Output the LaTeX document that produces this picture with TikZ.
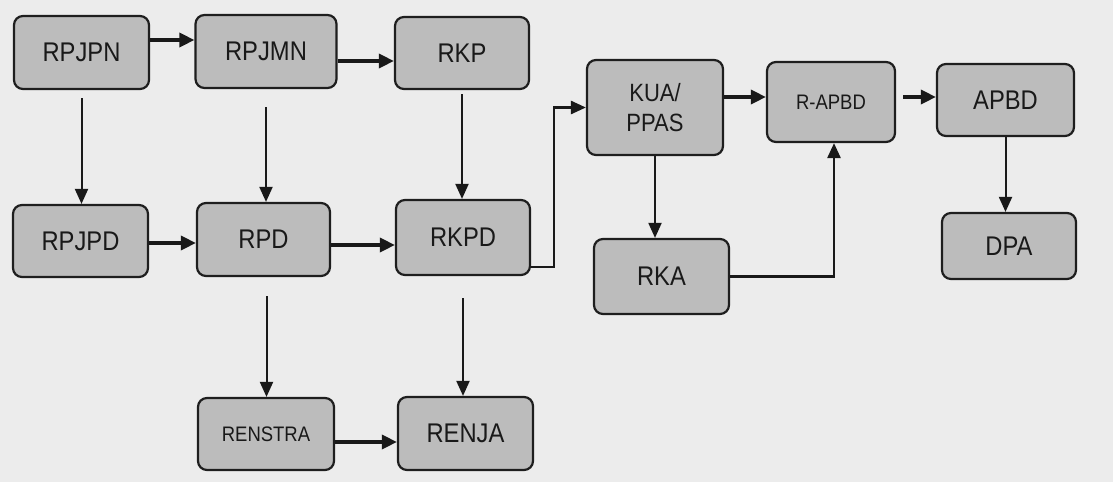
\documentclass[tikz,border=0pt]{standalone}
\usepackage{fontspec}
\setmainfont[FakeStretch=0.88]{Liberation Sans}
\usetikzlibrary{arrows.meta}
\definecolor{bg}{RGB}{236,236,236}
\definecolor{boxfill}{RGB}{188,188,188}
\definecolor{edge}{RGB}{30,30,30}
\tikzset{
  box/.style={draw=edge, line width=2.2pt, fill=boxfill, rounded corners=9pt,
    inner sep=0pt, text=black!90, font=\fontsize{27}{30}\selectfont},
  smalltxt/.style={font=\fontsize{21}{24}\selectfont},
  harrow/.style={draw=black!90, line width=3.4pt, -{Triangle[length=15pt,width=14pt]}},
  varrow/.style={draw=black!90, line width=2pt, -{Triangle[length=15pt,width=13pt]}},
  conn/.style={draw=black!90, line width=2.6pt, -{Triangle[length=15pt,width=13pt]}}
}
\begin{document}
\begin{tikzpicture}[x=1pt,y=-1pt]
\fill[bg] (0,0) rectangle (1113,482);
\useasboundingbox (0,0) rectangle (1113,482);

\node[box, minimum width=135pt, minimum height=73pt] (RPJPN) at (81.5,52.5) {RPJPN};
\node[box, minimum width=141pt, minimum height=73pt] (RPJMN) at (266,51.5) {RPJMN};
\node[box, minimum width=134pt, minimum height=72pt] (RKP) at (462,53) {RKP};
\node[box, minimum width=135pt, minimum height=72pt] (RPJPD) at (80.5,241) {RPJPD};
\node[box, minimum width=133pt, minimum height=73pt] (RPD) at (263.5,239.5) {RPD};
\node[box, minimum width=134pt, minimum height=75pt] (RKPD) at (463,237.5) {RKPD};
\node[box, smalltxt, minimum width=136pt, minimum height=72pt] (RENSTRA) at (266,434) {RENSTRA};
\node[box, minimum width=135pt, minimum height=73pt] (RENJA) at (465.5,433.5) {RENJA};
\node[box, align=center, font=\fontsize{25}{30}\selectfont, minimum width=136pt, minimum height=95pt] (KUA) at (655,107.5) {KUA/\\PPAS};
\node[box, smalltxt, minimum width=128pt, minimum height=80pt] (RAPBD) at (831,102) {R-APBD};
\node[box, minimum width=137pt, minimum height=72pt] (APBD) at (1005.5,100) {APBD};
\node[box, minimum width=134pt, minimum height=66pt] (DPA) at (1009,246) {DPA};
\node[box, minimum width=135pt, minimum height=75pt] (RKA) at (661.5,276.5) {RKA};

% horizontal arrows
\draw[harrow] ([yshift=12.5pt]RPJPN.east) coordinate (h1) -- (h1 -| RPJMN.west);
\draw[harrow] ([yshift=-9.5pt]RPJMN.east) coordinate (h2) -- (h2 -| RKP.west);
\draw[harrow] ([yshift=-2pt]RPJPD.east) coordinate (h3) -- (h3 -| RPD.west);
\draw[harrow] ([yshift=-5.5pt]RPD.east) coordinate (h4) -- (h4 -| RKPD.west);
\draw[harrow] ([yshift=-8pt]RENSTRA.east) coordinate (h5) -- (h5 -| RENJA.west);
\draw[harrow] ([yshift=10.5pt]KUA.east) coordinate (h6) -- (h6 -| RAPBD.west);
\draw[harrow, shorten <=7pt] ([yshift=5pt]RAPBD.east) coordinate (h7) -- (h7 -| APBD.west);

% vertical arrows
\draw[varrow, shorten <=8pt] (RPJPN.south) -- (RPJPN.south |- RPJPD.north);
\draw[varrow, shorten <=18pt] (RPJMN.south) -- (RPJMN.south |- RPD.north);
\draw[varrow, shorten <=4pt] (RKP.south) -- (RKP.south |- RKPD.north);
\draw[varrow, shorten <=19pt] ([xshift=3pt]RPD.south) coordinate (v4) -- (v4 |- RENSTRA.north);
\draw[varrow, shorten <=22pt] (RKPD.south) -- (RKPD.south |- RENJA.north);
\draw[varrow] (KUA.south) -- (KUA.south |- RKA.north);
\draw[varrow] (APBD.south) -- (APBD.south |- DPA.north);

% elbow connectors
\draw[conn] ([yshift=-29.5pt]RKPD.east) -- ++(23,0) |- (KUA.west);
\draw[conn] (RKA.east) -| ([xshift=3pt]RAPBD.south);
\end{tikzpicture}
\end{document}
